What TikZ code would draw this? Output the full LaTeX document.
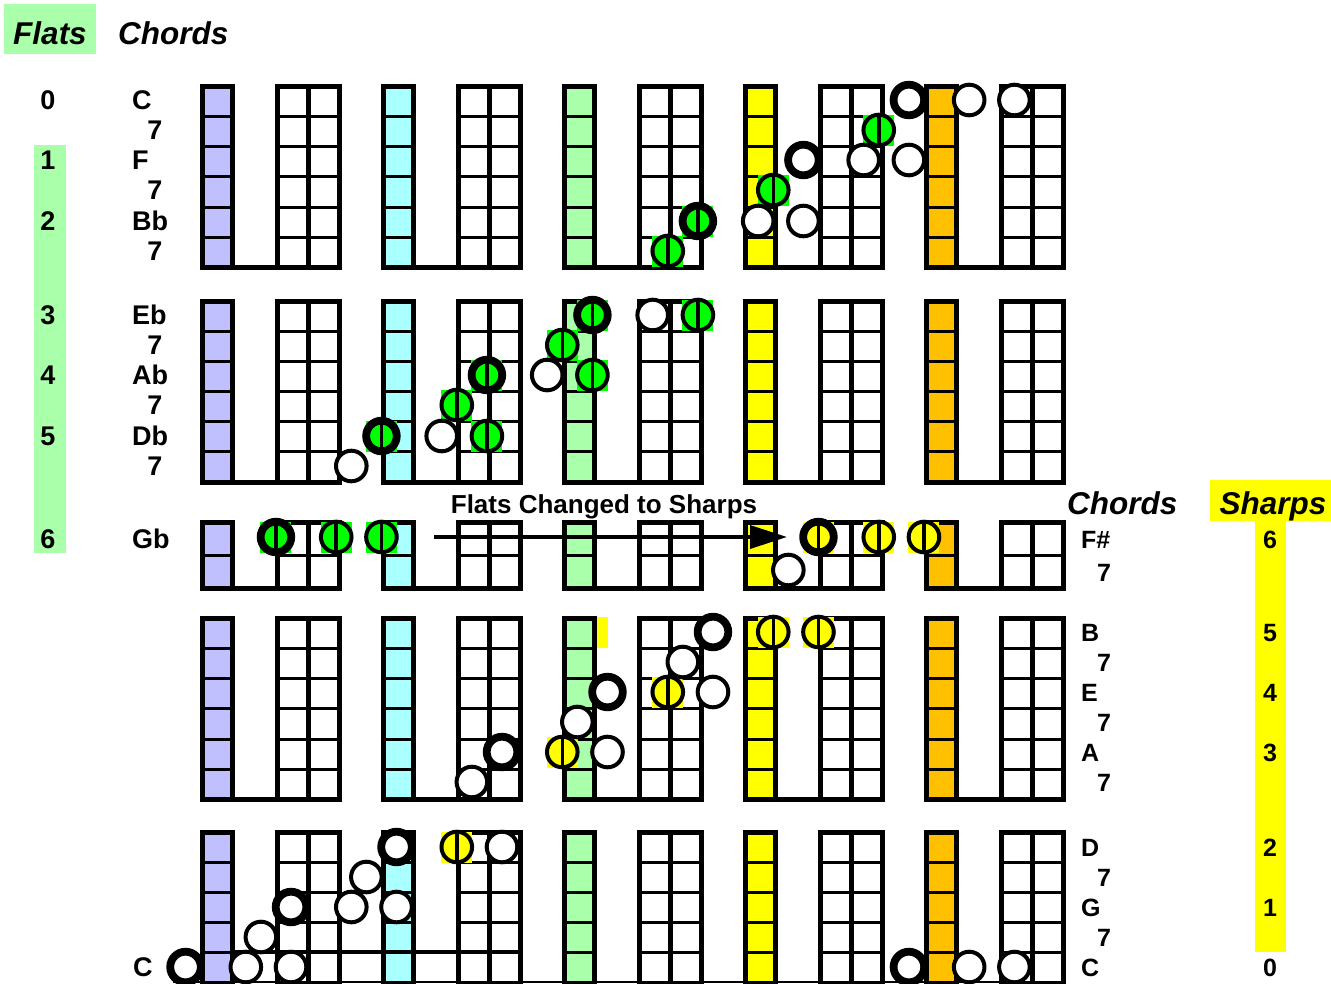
\documentclass[tikz,border=0pt]{standalone}
\usepackage{fontspec}
\setmainfont{Liberation Sans}
\usetikzlibrary{arrows.meta}
\definecolor{cpurple}{RGB}{192,192,255}
\definecolor{ccyan}{RGB}{170,255,255}
\definecolor{clgreen}{RGB}{170,255,170}
\definecolor{cyellow}{RGB}{255,255,0}
\definecolor{corange}{RGB}{255,192,0}
\definecolor{cgreen}{RGB}{0,255,0}
\newcommand\kx[1]{200.6+15.07*(#1)}
\newcommand\csq[3]{\fill[#3] ({\kx{#1}-15.5},{#2-15.5}) rectangle ++(31,31);}
\newcommand\wnote[3]{\node[wn] (#1) at ({\kx{#2}},#3) {};}
\newcommand\wroot[3]{\node[wn,rootw] (#1) at ({\kx{#2}},#3) {};}
\newcommand\cnote[5]{\node[wn,fill=#4,#5] (#1) at ({\kx{#2}},#3) {};
  \draw[line width=3.5pt] (#1.north) -- (#1.south);}
\begin{document}
\begin{tikzpicture}[x=1pt,y=-1pt,
  frame/.style={line width=5pt,line join=miter},
  rowline/.style={line width=3pt},
  wn/.style={circle,draw=black,line width=4pt,minimum size=30.6pt,inner sep=0pt,fill=white},
  rootw/.style={line width=7.8pt},
  lbl/.style={inner sep=0pt,font=\fontsize{27}{30}\selectfont\bfseries},
  rlbl/.style={inner sep=0pt,font=\fontsize{25}{28}\selectfont\bfseries},
  hdr/.style={inner sep=0pt,font=\fontsize{31.5}{34}\selectfont\bfseries\itshape}]
\useasboundingbox (0,0) rectangle (1331,983);
\clip (0,0) rectangle (1331,983);
% side backgrounds
\fill[clgreen] (4,4) rectangle (96,54);
\fill[clgreen] (34,145) rectangle (66,553);
\fill[cyellow] (1210,480) rectangle (1331,521);
\fill[cyellow] (1255,521) rectangle (1286,952);
% bands
\foreach \T/\n/\h in {86/6/30.33,301/6/30.17,522/2/33,618/6/30.33,832/6/30.2}{
  \pgfmathsetmacro\B{\T+\n*\h}
  \pgfmathtruncatemacro\nm{\n-1}
  \foreach \g/\c in {0/cpurple,1/ccyan,2/clgreen,3/cyellow,4/corange}{
    \pgfmathsetmacro\X{202.5+181*\g}
    \fill[\c] (\X,\T) rectangle (\X+30,\B);
    \foreach \i in {1,...,\nm}{
      \draw[rowline] (\X,\T+\i*\h) -- (\X+30,\T+\i*\h)
                     (\X+75,\T+\i*\h) -- (\X+136.5,\T+\i*\h);
    }
    \draw[frame] (\X+105.75,\T) -- (\X+105.75,\B);
    \draw[frame] (\X,\T) -- (\X+30,\T) -- (\X+30,\B) -- (\X+75,\B) -- (\X+75,\T)
      -- (\X+136.5,\T) -- (\X+136.5,\B) -- (\X,\B) -- cycle;
  }
}
\fill[cyellow] (597,617) rectangle (608,648);
\draw[line width=3.5pt] (232,952) -- (519,952);
\draw[line width=2pt] (173,982) -- (1062,982);
% arrow
\coordinate (aS) at (434,537);
\coordinate (aE) at (787,537);
\draw[line width=3.5pt,-{Triangle[length=37pt,width=23pt]}] (aS) -- (aE);
\node[inner sep=0pt,anchor=base,font=\fontsize{26}{28}\selectfont\bfseries] (fcs) at (604,513) {Flats Changed to Sharps};
% colour squares
\foreach \k/\y in {45/130,33/221,38/190,31/251,26/315,33/315,24/345,19/375,26/375,17/405,12/436,19/436,5/537,9/537,12/537}{\csq{\k}{\y}{cgreen}}
\foreach \k/\y in {41/537,45/537,48/537,38/632,41/632,31/692,24/752,17/847}{\csq{\k}{\y}{cyellow}}
% band 1
\wroot{c1}{47}{100} \wnote{c2}{51}{100} \wnote{c3}{54}{100}
\cnote{c7}{45}{130}{cgreen}{}
\wroot{f1}{40}{160} \wnote{f2}{44}{160} \wnote{f3}{47}{160}
\cnote{f7}{38}{190}{cgreen}{}
\cnote{bb1}{33}{221}{cgreen}{rootw} \wnote{bb2}{37}{221} \wnote{bb3}{40}{221}
\cnote{bb7}{31}{251}{cgreen}{}
% band 2
\cnote{eb1}{26}{315}{cgreen}{rootw} \wnote{eb2}{30}{315} \cnote{eb3}{33}{315}{cgreen}{}
\cnote{eb7}{24}{345}{cgreen}{}
\cnote{ab1}{19}{375}{cgreen}{rootw} \wnote{ab2}{23}{375} \cnote{ab3}{26}{375}{cgreen}{}
\cnote{ab7}{17}{405}{cgreen}{}
\cnote{db1}{12}{436}{cgreen}{rootw} \wnote{db2}{16}{436} \cnote{db3}{19}{436}{cgreen}{}
\wnote{db7}{10}{466}
% band 3
\cnote{gb1}{5}{537}{cgreen}{rootw} \cnote{gb2}{9}{537}{cgreen}{} \cnote{gb3}{12}{537}{cgreen}{}
\cnote{fs1}{41}{537}{cyellow}{rootw} \cnote{fs2}{45}{537}{cyellow}{} \cnote{fs3}{48}{537}{cyellow}{}
\wnote{fs7}{39}{570}
% band 4
\wroot{b1}{34}{632} \cnote{b2}{38}{632}{cyellow}{} \cnote{b3}{41}{632}{cyellow}{}
\wnote{b7}{32}{662}
\wroot{e1}{27}{692} \cnote{e2}{31}{692}{cyellow}{} \wnote{e3}{34}{692}
\wnote{e7}{25}{722}
\wroot{a1}{20}{752} \cnote{a2}{24}{752}{cyellow}{} \wnote{a3}{27}{752}
\wnote{a7}{18}{782}
% band 5
\wroot{d1}{13}{847} \cnote{d2}{17}{847}{cyellow}{} \wnote{d3}{20}{847}
\wnote{d7}{11}{877}
\wroot{g1}{6}{907} \wnote{g2}{10}{907} \wnote{g3}{13}{907}
\wnote{g7}{4}{937}
\wroot{cc1}{-1}{967} \wnote{cc2}{3}{967} \wnote{cc3}{6}{967}
\wroot{cd1}{47}{967} \wnote{cd2}{51}{967} \wnote{cd3}{54}{967}
% headers
\node[hdr,anchor=base] (hfl) at (50,44) {Flats};
\node[hdr,anchor=base west] (hch) at (118,44) {Chords};
\node[hdr,anchor=base west] (hch2) at (1067,514) {Chords};
\node[hdr,anchor=base] (hsh) at (1273,514) {Sharps};
% left numbers
\foreach \t/\y [count=\j] in {0/100,1/160,2/221,3/315,4/375,5/436,6/539}{
  \node[lbl,anchor=base] (ln\j) at (48,\y+9.7) {\t};}
\foreach \t/\y [count=\j] in {C/100,F/160,Bb/221,Eb/315,Ab/375,Db/436,Gb/539}{
  \node[lbl,anchor=base west] (lc\j) at (132,\y+9.7) {\t};}
\node[lbl,anchor=base west] (lcC) at (133,976.7) {C};
\foreach \y [count=\j] in {130,190,251,345,405,466}{
  \node[lbl,anchor=base] (ls\j) at (155,\y+9.7) {7};}
% right labels
\foreach \t/\y [count=\j] in {F\#/539,B/632,E/692,A/752,D/847,G/907,C/967}{
  \node[rlbl,anchor=base west] (rc\j) at (1081,\y+9) {\t};}
\foreach \y [count=\j] in {572,662,722,782,877,937}{
  \node[rlbl,anchor=base] (rs\j) at (1104,\y+9) {7};}
\foreach \t/\y [count=\j] in {6/539,5/632,4/692,3/752,2/847,1/907,0/967}{
  \node[rlbl,anchor=base] (rn\j) at (1270,\y+9) {\t};}
\end{tikzpicture}
\end{document}
